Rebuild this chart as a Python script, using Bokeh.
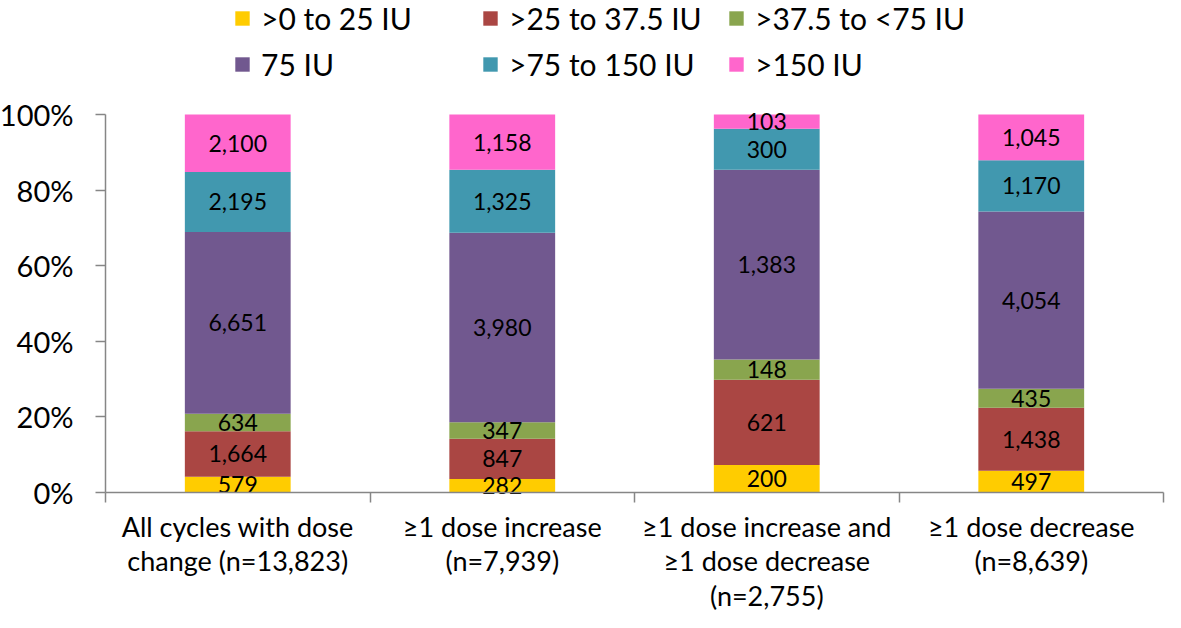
from bokeh.plotting import figure
from bokeh.models import (Range1d, FixedTicker, NumeralTickFormatter, Legend,
                          LegendItem, ColumnDataSource, LinearAxis)
from bokeh.core.properties import value
from bokeh.embed import file_html
from bokeh.resources import INLINE

# ---------------- data ----------------
categories = [
    "All cycles with dose\nchange (n=13,823)",
    "\u22651 dose increase\n(n=7,939)",
    "\u22651 dose increase and\n\u22651 dose decrease\n(n=2,755)",
    "\u22651 dose decrease\n(n=8,639)",
]
series_names = [">0 to 25 IU", ">25 to 37.5 IU", ">37.5 to <75 IU",
                "75 IU", ">75 to 150 IU", ">150 IU"]
s_0_25 = [579, 282, 200, 497]
s_25_375 = [1664, 847, 621, 1438]
s_375_75 = [634, 347, 148, 435]
s_75 = [6651, 3980, 1383, 4054]
s_75_150 = [2195, 1325, 300, 1170]
s_150 = [2100, 1158, 103, 1045]
y_ticks = [0, 0.2, 0.4, 0.6, 0.8, 1.0]
colors = ["#FFCC00", "#AA4643", "#89A54E", "#71588F", "#4198AF", "#FF66CC"]

series = [s_0_25, s_25_375, s_375_75, s_75, s_75_150, s_150]
n_cat = len(categories)
totals = [sum(s[i] for s in series) for i in range(n_cat)]
xs = [2 * i + 1 for i in range(n_cat)]
bounds = [2 * i for i in range(n_cat + 1)]

keys = ["k%d" % j for j in range(len(series))]
data = {"x": xs}
for k, s in zip(keys, series):
    data[k] = [v / t for v, t in zip(s, totals)]
src = ColumnDataSource(data)

FONT = "Lato"
W, H = 1165, 612
PL, PR, PT, PB = 105, 1163, 114, 492      # plotting area in canvas pixels
xu = (PR - PL) / (2 * n_cat)
yu = (PB - PT) / 1.0
x_range = Range1d(-PL / xu, 2 * n_cat + (W - PR) / xu)
y_range = Range1d(-(H - PB) / yu, 1 + PT / yu)

p = figure(width=W, height=H, output_backend="svg", toolbar_location=None,
           x_range=x_range, y_range=y_range,
           x_axis_location=None, y_axis_location=None,
           min_border=0)
p.outline_line_color = None
p.xgrid.visible = False
p.ygrid.visible = False
p.background_fill_color = "white"
p.border_fill_color = "white"

renderers = p.vbar_stack(keys, x="x", width=0.8, source=src, color=colors,
                         line_color=None)

# data labels
lx, ly, lt = [], [], []
for i in range(n_cat):
    cum = 0.0
    for s in series:
        f = s[i] / totals[i]
        lx.append(xs[i])
        ly.append(cum + f / 2)
        lt.append(f"{s[i]:,}")
        cum += f
p.text(x=lx, y=ly, text=lt, text_align="center", text_baseline="middle",
       text_font=value(FONT), text_font_size="23px", text_color="black")

# axes
AX = "#868686"
yax = LinearAxis(fixed_location=0, bounds=(0, 1),
                 ticker=FixedTicker(ticks=y_ticks),
                 formatter=NumeralTickFormatter(format="0%"))
yax.major_label_text_font = FONT
yax.major_label_text_font_size = "29px"
yax.major_label_text_color = "black"
yax.major_label_standoff = 22
yax.major_tick_out = 10
yax.major_tick_in = 0
yax.minor_tick_line_color = None
yax.axis_line_color = AX
yax.axis_line_width = 1.5
yax.major_tick_line_color = AX
yax.major_tick_line_width = 1.5
p.add_layout(yax, "left")

xax = LinearAxis(fixed_location=0, bounds=(0, 2 * n_cat),
                 ticker=FixedTicker(ticks=xs, minor_ticks=bounds))
xax.major_label_overrides = {x: c for x, c in zip(xs, categories)}
xax.major_label_text_font = FONT
xax.major_label_text_font_size = "27px"
xax.major_label_text_color = "black"
xax.major_label_text_line_height = 1.05
xax.major_label_standoff = 7
xax.major_tick_line_color = None
xax.major_tick_out = 0
xax.major_tick_in = 0
xax.minor_tick_out = 10
xax.minor_tick_in = 0
xax.minor_tick_line_color = AX
xax.minor_tick_line_width = 1.5
xax.axis_line_color = AX
xax.axis_line_width = 1.5
p.add_layout(xax, "below")

# legends: three columns of two items
col_x = [233, 481, 727]
for c in range(3):
    items = [LegendItem(label=series_names[c], renderers=[renderers[c]]),
             LegendItem(label=series_names[c + 3], renderers=[renderers[c + 3]])]
    lg = Legend(items=items, location=(col_x[c], H - 82), orientation="vertical",
                padding=0, margin=0, spacing=10, label_height=36,
                glyph_width=18, glyph_height=18, label_standoff=10,
                label_text_font=FONT, label_text_font_size="30px",
                label_text_color="black", border_line_color=None,
                background_fill_alpha=0)
    p.add_layout(lg, "center")

open("out.html", "w").write(file_html(p, INLINE))
